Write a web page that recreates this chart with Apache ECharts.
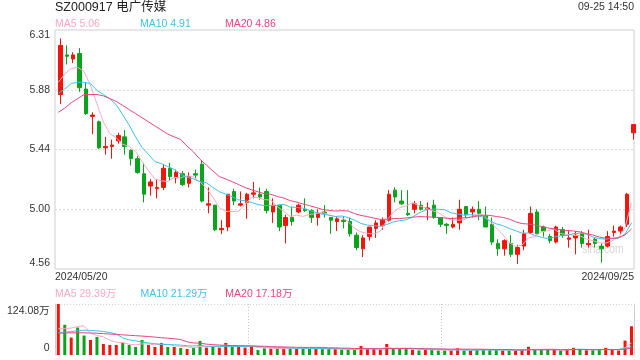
<!DOCTYPE html>
<html><head><meta charset="utf-8">
<script src="https://cdn.jsdelivr.net/npm/echarts@6/dist/echarts.min.js"></script>
<style>html,body{margin:0;padding:0;background:#fff}#c{width:640px;height:360px}</style>
</head><body><div id="c"></div>
<script>
// ---------- data ----------
const dates = [
'2024/05/20','2024/05/21','2024/05/22','2024/05/23','2024/05/24','2024/05/27','2024/05/28','2024/05/29','2024/05/30','2024/05/31',
'2024/06/03','2024/06/04','2024/06/05','2024/06/06','2024/06/07','2024/06/11','2024/06/12','2024/06/13','2024/06/14','2024/06/17',
'2024/06/18','2024/06/19','2024/06/20','2024/06/21','2024/06/24','2024/06/25','2024/06/26','2024/06/27','2024/06/28','2024/07/01',
'2024/07/02','2024/07/03','2024/07/04','2024/07/05','2024/07/08','2024/07/09','2024/07/10','2024/07/11','2024/07/12','2024/07/15',
'2024/07/16','2024/07/17','2024/07/18','2024/07/19','2024/07/22','2024/07/23','2024/07/24','2024/07/25','2024/07/26','2024/07/29',
'2024/07/30','2024/07/31','2024/08/01','2024/08/02','2024/08/05','2024/08/06','2024/08/07','2024/08/08','2024/08/09','2024/08/12',
'2024/08/13','2024/08/14','2024/08/15','2024/08/16','2024/08/19','2024/08/20','2024/08/21','2024/08/22','2024/08/23','2024/08/26',
'2024/08/27','2024/08/28','2024/08/29','2024/08/30','2024/09/02','2024/09/03','2024/09/04','2024/09/05','2024/09/06','2024/09/09',
'2024/09/10','2024/09/11','2024/09/12','2024/09/13','2024/09/18','2024/09/19','2024/09/20','2024/09/23','2024/09/24','2024/09/25'];

const opens = [5.84,6.13,6.10,6.14,5.88,5.68,5.64,5.45,5.46,5.50,
5.53,5.43,5.37,5.26,5.17,5.15,5.16,5.30,5.23,5.26,
5.19,5.26,5.33,5.03,5.03,4.85,4.87,5.13,5.03,5.05,
5.11,5.11,5.13,4.98,5.03,4.88,4.94,4.98,5.00,4.99,
4.94,4.98,4.94,4.91,4.92,4.91,4.81,4.71,4.80,4.86,
4.88,4.92,5.14,5.06,4.97,5.00,5.03,5.00,5.03,4.94,
4.89,4.87,4.90,5.02,4.98,5.00,4.95,4.89,4.75,4.71,
4.75,4.67,4.73,4.83,4.98,4.87,4.80,4.76,4.85,4.78,
4.79,4.82,4.74,4.78,4.73,4.73,4.83,4.84,4.89,5.56];
const closes = [6.20,6.12,6.13,5.89,5.70,5.69,5.45,5.46,5.47,5.54,
5.46,5.37,5.27,5.11,5.20,5.16,5.30,5.24,5.27,5.18,
5.24,5.25,5.06,5.04,4.85,4.86,5.11,5.06,5.04,5.11,
5.12,5.09,4.99,5.03,4.87,4.94,4.91,5.03,4.99,4.94,
4.97,4.97,4.92,4.93,4.91,4.82,4.72,4.79,4.87,4.90,
4.92,5.11,5.09,5.04,4.96,5.04,5.00,5.01,4.94,4.89,
4.88,4.89,5.00,4.96,5.00,4.97,4.87,4.76,4.71,4.77,
4.67,4.72,4.82,4.97,4.82,4.84,4.77,4.87,4.81,4.79,
4.81,4.75,4.75,4.75,4.71,4.80,4.84,4.87,5.11,5.62];
const lows = [5.77,6.06,6.07,5.86,5.69,5.55,5.44,5.40,5.37,5.48,
5.40,5.32,5.26,5.05,5.10,5.08,5.14,5.21,5.19,5.17,
5.16,5.22,5.05,4.97,4.84,4.82,4.84,5.03,5.02,4.93,
5.08,5.07,4.97,4.90,4.84,4.75,4.88,4.97,4.98,4.90,
4.88,4.94,4.82,4.84,4.86,4.80,4.70,4.65,4.77,4.79,
4.85,4.91,5.05,5.03,4.95,4.97,4.99,4.92,4.93,4.87,
4.82,4.86,4.85,4.94,4.94,4.92,4.87,4.74,4.66,4.66,
4.65,4.60,4.70,4.82,4.82,4.80,4.75,4.75,4.79,4.72,
4.67,4.72,4.72,4.72,4.61,4.72,4.80,4.82,4.87,5.51];
const highs = [6.25,6.20,6.15,6.18,5.93,5.71,5.65,5.53,5.51,5.56,
5.58,5.44,5.39,5.34,5.22,5.22,5.33,5.34,5.29,5.28,
5.27,5.29,5.36,5.16,5.03,4.92,5.11,5.15,5.13,5.12,
5.20,5.16,5.15,5.08,5.03,4.96,5.02,5.04,5.08,5.00,
5.00,5.03,4.94,4.95,4.95,4.94,4.83,4.81,4.87,4.92,
4.94,5.14,5.16,5.14,5.14,5.06,5.06,5.05,5.07,4.94,
4.90,4.94,5.07,5.02,5.02,5.06,5.02,4.94,4.78,4.78,
4.81,4.74,4.85,5.02,5.00,4.88,4.82,4.88,4.87,4.84,
4.84,4.84,4.85,4.79,4.75,4.84,4.88,4.88,5.12,5.62];

// volume in 万手
const volumes = [124.08,73.5,42.4,66.9,47.3,36.7,44.1,26.9,24.5,24.5,
30.2,24.5,19.6,36.7,24.5,19.6,29.4,19.6,19.6,17.1,
14.7,17.1,34.3,18.0,21.2,18.0,29.4,19.6,19.6,18.0,
21.2,12.2,16.3,15.5,16.3,16.3,16.3,15.5,15.5,15.5,
15.5,14.5,14.5,14.5,13.0,13.0,13.0,22.0,14.5,14.5,
13.0,26.9,14.5,14.5,14.5,13.0,11.0,13.0,13.0,11.0,
11.0,11.0,16.3,11.0,11.0,13.0,13.0,13.0,13.0,11.0,
11.0,11.0,13.0,20.0,13.0,13.0,13.0,13.0,11.0,13.0,
17.5,13.5,11.5,11.5,12.0,17.5,13.5,11.0,35.0,70.0];

// moving-average values before enough visible days exist
const ma5Lead  = [5.93,5.99,6.03,6.04];
const ma10Lead = [5.85,5.88,5.92,5.93,5.93,5.92,5.87,5.84,5.81];
const ma20Lead = [5.71,5.74,5.78,5.81,5.84,5.84,5.84,5.83,5.81,5.79,5.76,5.73,5.70,5.67,5.64,5.61,5.58,5.55,5.53];
const vma5Lead  = [64,64,65.5,69.5];
const vma10Lead = [54.7,55.5,57.1,58.8,60.4,59.6,58.8,57.1,54.7];
const vma20Lead = [53,53.5,54,54,54,53.5,53,52,51,50,49,48,47,46,45,43.5,42,41,39.5];

// axis ticks
const priceMin = 4.5625, priceMax = 6.3125, priceStep = 0.4375;
const priceTicks = ['4.56','5.00','5.44','5.88','6.31'];
const volTicks = ['0','124.08万'];
const volGridStep = 30; // vertical guide every 30 trading days

const titleText = 'SZ000917 电广传媒';
const timeText = '09-25 14:50';
const maLegend = ['MA5 5.06','MA10 4.91','MA20 4.86'];
const volLegend = ['MA5 29.39万','MA10 21.29万','MA20 17.18万'];

// ---------- styles ----------
const RED = '#f2150c', GREEN = '#0aa31c';
const C5 = '#f9a9c6', C10 = '#3fc2e3', C20 = '#e8457f';
const FONT = '"Liberation Sans", Arial, "Noto Sans CJK SC", sans-serif';

function ma(vals, n, lead) {
  return vals.map((v, i) => {
    if (i < n - 1) return lead[i];
    let s = 0; for (let k = i - n + 1; k <= i; k++) s += vals[k];
    return +(s / n).toFixed(4);
  });
}
const candleData = opens.map((o, i) => [o, closes[i], lows[i], highs[i]]);
const volMax = Math.max(...volumes);
const volData = volumes.map((v, i) => ({ value: v, itemStyle: { color: closes[i] >= opens[i] ? RED : GREEN } }));

const chart = echarts.init(document.getElementById('c'));
const lineS = (name, data, color, xi, yi) => ({
  name, type: 'line', data, xAxisIndex: xi, yAxisIndex: yi, symbol: 'none',
  lineStyle: { color, width: 1 }, silent: true, z: 3
});
chart.setOption({
  animation: false,
  textStyle: { fontFamily: FONT },
  grid: [
    { left: 55, top: 30, width: 579, height: 239, show: true, borderColor: '#cfcfcf', borderWidth: 1 },
    { left: 57.1, top: 30, width: 579.6, height: 239 },
    { left: 55.1, top: 30, width: 579.6, height: 239 },
    { left: 55.1, top: 304, width: 579.6, height: 51 }
  ],
  xAxis: [
    { gridIndex: 0, type: 'category', data: [dates[0], dates[dates.length - 1]], boundaryGap: false,
      axisLine: { show: false }, axisTick: { show: false }, splitLine: { show: false },
      axisLabel: { margin: 3, color: '#333', fontSize: 10.5, interval: 0, alignMinLabel: 'left', alignMaxLabel: 'right' } },
    { gridIndex: 1, type: 'category', data: dates, boundaryGap: true, show: false },
    { gridIndex: 2, type: 'category', data: dates, boundaryGap: true, show: false },
    { gridIndex: 3, type: 'category', data: dates, boundaryGap: true,
      axisLine: { show: false }, axisTick: { show: false }, axisLabel: { show: false }, splitLine: { show: false } },
    { gridIndex: 3, type: 'value', min: 0, max: dates.length, interval: volGridStep, position: 'top',
      axisLine: { show: false }, axisTick: { show: false }, axisLabel: { show: false },
      splitLine: { show: true, showMinLine: false, showMaxLine: false, lineStyle: { color: '#c4c4c4', type: [1, 2] } } }
  ],
  yAxis: [
    { gridIndex: 0, type: 'value', min: priceMin, max: priceMax, interval: priceStep,
      axisLine: { show: false }, axisTick: { show: false },
      splitLine: { show: true, showMinLine: false, showMaxLine: false, lineStyle: { color: '#dcdcdc', type: [2, 2] } },
      axisLabel: { margin: 5, color: '#333', fontSize: 10.5,
        formatter: v => {
          const k = Math.round((v - priceMin) / priceStep);
          if (k === priceTicks.length - 1) return '{t|' + priceTicks[k] + '}';
          if (k === 0) return '{b|' + priceTicks[k] + '}';
          return priceTicks[k];
        },
        rich: { t: { padding: [10, 0, 0, 0], fontSize: 10.5, color: '#333' }, b: { padding: [0, 0, 11, 0], fontSize: 10.5, color: '#333' } } } },
    { gridIndex: 1, type: 'value', min: priceMin, max: priceMax, show: false, splitLine: { show: false } },
    { gridIndex: 2, type: 'value', min: priceMin, max: priceMax, show: false, splitLine: { show: false } },
    { gridIndex: 3, type: 'value', min: 0, max: volMax, interval: volMax,
      axisLine: { show: true, lineStyle: { color: '#cfcfcf' } }, axisTick: { show: false },
      splitLine: { show: true, showMinLine: false, showMaxLine: true, lineStyle: { color: '#cfcfcf', type: [1, 2] } },
      axisLabel: { margin: 5.5, color: '#333', fontSize: 10.5,
        formatter: v => (v === 0 ? '{b|' + volTicks[0] + '}' : '{t|' + volTicks[1] + '}'),
        rich: { t: { padding: [14, 0, 0, 0], fontSize: 10.5, color: '#333' }, b: { padding: [0, 0, 14, 0], fontSize: 10.5, color: '#333' } } } },
    { gridIndex: 3, type: 'value', min: 0, max: volMax, position: 'right',
      axisLine: { show: true, lineStyle: { color: '#cfcfcf' } }, axisTick: { show: false },
      axisLabel: { show: false }, splitLine: { show: false } }
  ],
  series: [
    { type: 'candlestick', data: candleData, xAxisIndex: 1, yAxisIndex: 1, barWidth: 4,
      itemStyle: { color: RED, color0: GREEN, borderColor: RED, borderColor0: GREEN, borderWidth: 1 }, z: 2 },
    lineS('MA5', ma(closes, 5, ma5Lead), C5, 2, 2),
    lineS('MA10', ma(closes, 10, ma10Lead), C10, 2, 2),
    lineS('MA20', ma(closes, 20, ma20Lead), C20, 2, 2),
    { type: 'bar', data: volData, xAxisIndex: 3, yAxisIndex: 3, barWidth: 3, z: 2 },
    lineS('VMA5', ma(volumes, 5, vma5Lead), C5, 3, 3),
    lineS('VMA10', ma(volumes, 10, vma10Lead), C10, 3, 3),
    lineS('VMA20', ma(volumes, 20, vma20Lead), C20, 3, 3)
  ],
  graphic: [
    { type: 'text', x: 55, y: 7.5, style: { text: titleText, fontSize: 12.5, fontFamily: FONT, fill: '#222', verticalAlign: 'middle' } },
    { type: 'text', x: 634, y: 7, style: { text: timeText, fontSize: 10.5, fontFamily: FONT, fill: '#333', align: 'right', verticalAlign: 'middle' } },
    { type: 'text', x: 55, y: 24.5, style: { text: maLegend[0], fontSize: 10.5, fontFamily: FONT, fill: C5, verticalAlign: 'middle' } },
    { type: 'text', x: 140, y: 24.5, style: { text: maLegend[1], fontSize: 10.5, fontFamily: FONT, fill: C10, verticalAlign: 'middle' } },
    { type: 'text', x: 225, y: 24.5, style: { text: maLegend[2], fontSize: 10.5, fontFamily: FONT, fill: C20, verticalAlign: 'middle' } },
    { type: 'text', x: 55, y: 294.3, style: { text: volLegend[0], fontSize: 10.5, fontFamily: FONT, fill: C5, verticalAlign: 'middle' } },
    { type: 'text', x: 140.5, y: 294.3, style: { text: volLegend[1], fontSize: 10.5, fontFamily: FONT, fill: C10, verticalAlign: 'middle' } },
    { type: 'text', x: 225.3, y: 294.3, style: { text: volLegend[2], fontSize: 10.5, fontFamily: FONT, fill: C20, verticalAlign: 'middle' } },
    { type: 'text', x: 582, y: 249.5, scaleX: 0.8, style: { text: 'sina.com', fontSize: 13, fontFamily: FONT, fill: '#d6d6d6', verticalAlign: 'middle' } }
  ]
});
</script>
</body></html>
